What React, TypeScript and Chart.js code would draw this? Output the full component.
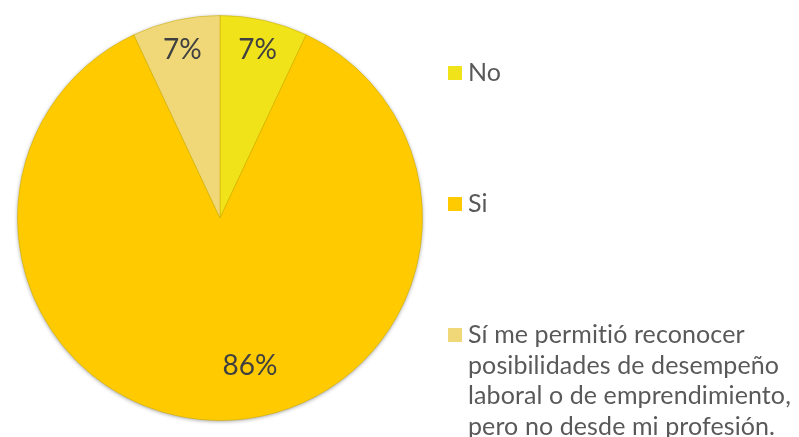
import React, { useEffect, useRef } from "react";
import { Chart, registerables } from "chart.js";

Chart.register(...registerables);

const categories = [
  "No",
  "Si",
  "Sí me permitió reconocer posibilidades de desempeño laboral o de emprendimiento, pero no desde mi profesión.",
];
const legendLines = [
  ["No"],
  ["Si"],
  [
    "Sí me permitió reconocer",
    "posibilidades de desempeño",
    "laboral o de emprendimiento,",
    "pero no desde mi profesión.",
  ],
];
const values = [7, 86, 7];
const percentLabels = ["7%", "86%", "7%"];
const colors = ["#F0E31A", "#FFCB00", "#F0D878"];

const shadowPlugin = {
  id: "pieShadow",
  beforeDatasetsDraw(chart: any) {
    const ctx = chart.ctx;
    const arc = chart.getDatasetMeta(0).data[0];
    if (!arc) return;
    const { x, y, outerRadius } = arc.getProps(["x", "y", "outerRadius"], true);
    ctx.save();
    ctx.shadowColor = "rgba(0,0,0,0.45)";
    ctx.shadowBlur = 4;
    ctx.shadowOffsetX = 0;
    ctx.shadowOffsetY = 1;
    ctx.fillStyle = "#FFCB00";
    ctx.beginPath();
    ctx.arc(x, y, outerRadius - 0.5, 0, Math.PI * 2);
    ctx.fill();
    ctx.restore();
  },
};

const labelPlugin = {
  id: "pctLabels",
  afterDatasetsDraw(chart: any) {
    const ctx = chart.ctx;
    const meta = chart.getDatasetMeta(0);
    ctx.save();
    ctx.font = "28px Lato";
    ctx.fillStyle = "#404040";
    ctx.textAlign = "center";
    ctx.textBaseline = "middle";
    meta.data.forEach((arc: any, i: number) => {
      const { x, y, startAngle, endAngle, outerRadius } = arc.getProps(
        ["x", "y", "startAngle", "endAngle", "outerRadius"],
        true
      );
      const mid = (startAngle + endAngle) / 2;
      const frac = i === 1 ? 0.73 : 0.85;
      const dx = i === 1 ? 30 : 0;
      const px = x + Math.cos(mid) * outerRadius * frac + dx;
      const py = y + Math.sin(mid) * outerRadius * frac;
      ctx.fillText(percentLabels[i], px, py);
    });
    ctx.restore();
  },
};

const legendPlugin = {
  id: "customLegend",
  afterDraw(chart: any) {
    const ctx = chart.ctx;
    ctx.save();
    ctx.font = "25px Lato";
    try {
      ctx.letterSpacing = "0.1px";
    } catch (e) {}
    ctx.textBaseline = "middle";
    ctx.textAlign = "left";
    const x0 = 448;
    const tops = [73, 204, 335];
    const lineH = 30.5;
    legendLines.forEach((lines, i) => {
      ctx.fillStyle = colors[i];
      ctx.fillRect(x0, tops[i] - 7, 14, 14);
      ctx.fillStyle = "#595959";
      lines.forEach((ln, j) => {
        ctx.fillText(ln, x0 + 20, tops[i] + j * lineH);
      });
    });
    ctx.restore();
  },
};

export default function App() {
  const ref = useRef<HTMLCanvasElement>(null);
  useEffect(() => {
    if (!ref.current) return;
    const chart = new Chart(ref.current, {
      type: "pie",
      data: {
        labels: categories,
        datasets: [
          {
            data: values,
            backgroundColor: colors,
            borderColor: "rgba(200,170,0,0.5)",
            borderWidth: 1,
          },
        ],
      },
      options: {
        animation: false,
        responsive: false,
        events: [],
        layout: { padding: { left: 17, top: 15, right: 376, bottom: 16 } },
        plugins: {
          legend: { display: false },
          tooltip: { enabled: false },
        },
      },
      plugins: [shadowPlugin, labelPlugin, legendPlugin],
    });
    return () => chart.destroy();
  }, []);
  return (
    <div style={{ position: "fixed", left: 0, top: 0, width: 799, height: 437, background: "#fff" }}>
      <canvas ref={ref} width={799} height={437} style={{ width: 799, height: 437 }} />
    </div>
  );
}
